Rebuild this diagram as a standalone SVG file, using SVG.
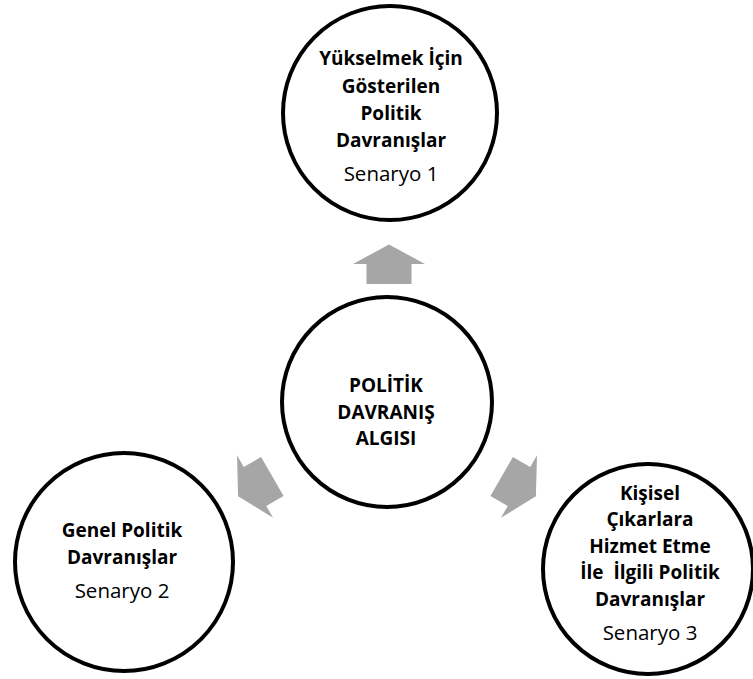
<svg xmlns="http://www.w3.org/2000/svg" width="753" height="679" viewBox="0 0 753 679">
<style>
.c{fill:#fff;stroke:#000;stroke-width:4}
.b{font-family:"Open Sans","Liberation Sans",sans-serif;font-weight:bold;font-size:19px;text-anchor:middle;fill:#000}
.r{font-family:"Open Sans","Liberation Sans",sans-serif;font-size:20.5px;text-anchor:middle;fill:#000}
.a{fill:#a6a6a6}
</style>
<defs>
<path id="arr" d="M0,-19.5 L36,0 L22.5,0 L22.5,20 L-22.5,20 L-22.5,0 L-36,0 Z"/>
</defs>
<g id="connectors">
<use href="#arr" class="a" transform="translate(389,264)"/>
<use href="#arr" class="a" transform="translate(255,486.5) rotate(-120)"/>
<use href="#arr" class="a" transform="translate(519,486.5) rotate(120)"/>
</g>
<g id="node-top">
<circle class="c" cx="390" cy="113" r="107"/>
<text class="b" x="391" y="65">Yükselmek İçin</text>
<text class="b" x="391" y="93">Gösterilen</text>
<text class="b" x="391" y="120">Politik</text>
<text class="b" x="391" y="147">Davranışlar</text>
<text class="r" x="391" y="181">Senaryo 1</text>
</g>
<g id="node-center">
<circle class="c" cx="387" cy="402" r="105"/>
<text class="b" x="386" y="392">POLİTİK</text>
<text class="b" x="386" y="419">DAVRANIŞ</text>
<text class="b" x="386" y="445">ALGISI</text>
</g>
<g id="node-left">
<circle class="c" cx="124" cy="562" r="109"/>
<text class="b" x="122" y="537">Genel Politik</text>
<text class="b" x="122" y="564">Davranışlar</text>
<text class="r" x="122" y="598">Senaryo 2</text>
</g>
<g id="node-right">
<circle class="c" cx="648" cy="569" r="105"/>
<text class="b" x="650" y="500">Kişisel</text>
<text class="b" x="650" y="526">Çıkarlara</text>
<text class="b" x="650" y="553">Hizmet Etme</text>
<text class="b" x="650" y="579" xml:space="preserve">İle  İlgili Politik</text>
<text class="b" x="650" y="606">Davranışlar</text>
<text class="r" x="650" y="640">Senaryo 3</text>
</g>
</svg>
